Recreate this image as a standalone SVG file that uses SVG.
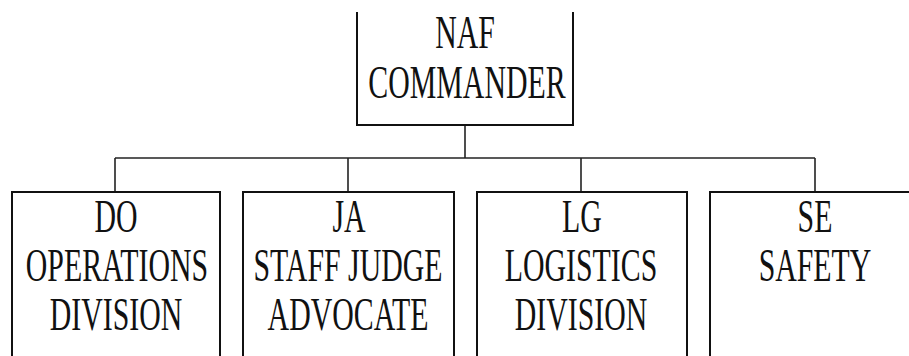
<svg xmlns="http://www.w3.org/2000/svg" width="909" height="356" viewBox="0 0 909 356">
<style>
.box{fill:none;stroke:#111;stroke-width:2}
.conn{fill:none;stroke:#222;stroke-width:1.6}
.t{font-family:"Liberation Serif","Times New Roman",serif;font-size:47px;fill:#111;text-anchor:middle}
</style>
<rect width="909" height="356" fill="#fff"/>
<g id="connectors">
<path class="conn" d="M465,125 V158"/>
<path class="conn" d="M115,158 H815"/>
<path class="conn" d="M115,158 V192"/>
<path class="conn" d="M348,158 V192"/>
<path class="conn" d="M581,158 V192"/>
<path class="conn" d="M815,158 V192"/>
</g>
<g id="naf">
<path class="box" d="M357,12 V125 H573 V12"/>
<text class="t" transform="translate(465,48) scale(0.635,1)" x="0" y="0">NAF</text>
<text class="t" transform="translate(467,98) scale(0.635,1)" x="0" y="0">COMMANDER</text>
</g>
<g id="do">
<path class="box" d="M12,356 V192 H220 V356"/>
<text class="t" transform="translate(116,232) scale(0.635,1)">DO</text>
<text class="t" transform="translate(117,281) scale(0.635,1)">OPERATIONS</text>
<text class="t" transform="translate(116,330) scale(0.635,1)">DIVISION</text>
</g>
<g id="ja">
<path class="box" d="M243,356 V192 H454 V356"/>
<text class="t" transform="translate(349,232) scale(0.635,1)">JA</text>
<text class="t" transform="translate(348,281) scale(0.635,1)">STAFF JUDGE</text>
<text class="t" transform="translate(348,330) scale(0.635,1)">ADVOCATE</text>
</g>
<g id="lg">
<path class="box" d="M477,356 V192 H687 V356"/>
<text class="t" transform="translate(582,232) scale(0.635,1)">LG</text>
<text class="t" transform="translate(581,281) scale(0.635,1)">LOGISTICS</text>
<text class="t" transform="translate(581,330) scale(0.635,1)">DIVISION</text>
</g>
<g id="se">
<path class="box" d="M710,356 V192 H909"/>
<text class="t" transform="translate(815,232) scale(0.635,1)">SE</text>
<text class="t" transform="translate(815,281) scale(0.635,1)">SAFETY</text>
</g>
</svg>
